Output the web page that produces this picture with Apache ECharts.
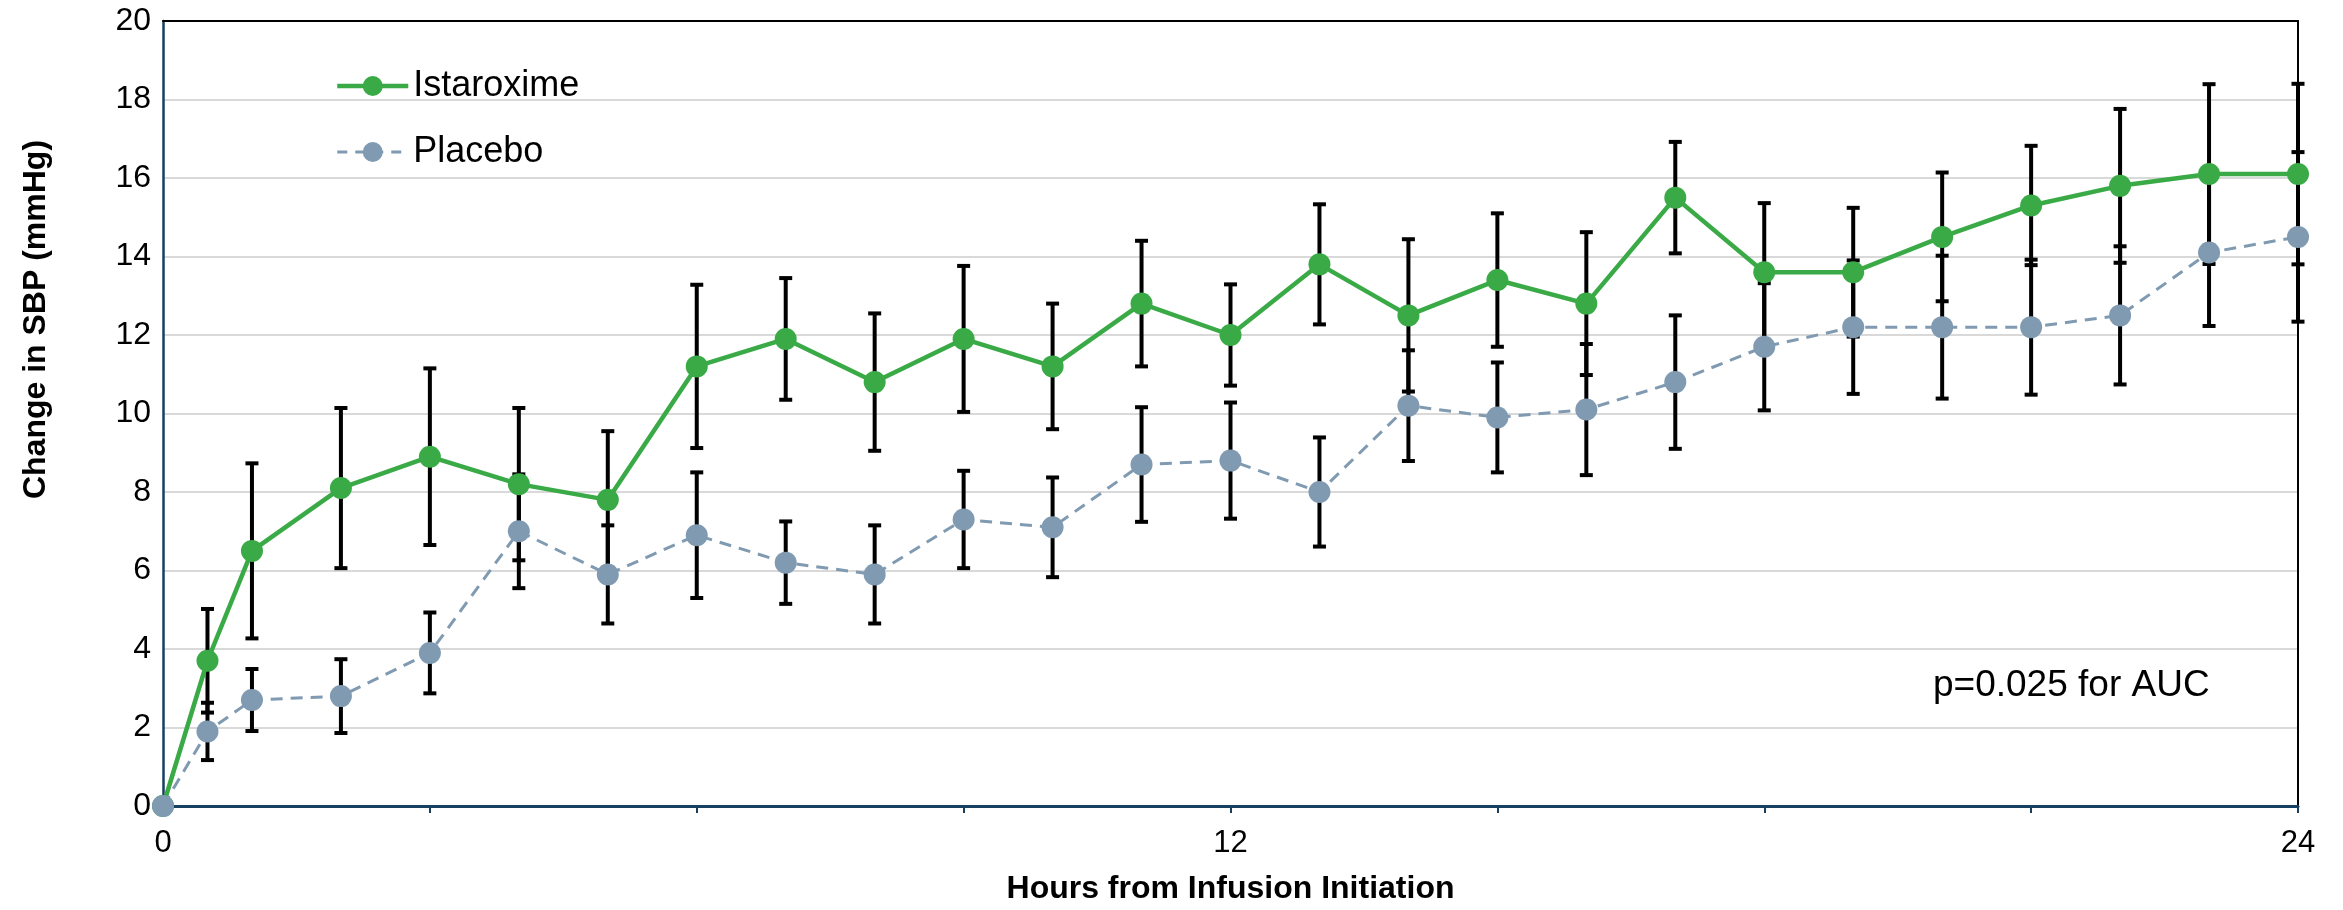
<!DOCTYPE html>
<html>
<head>
<meta charset="utf-8">
<script src="https://cdn.jsdelivr.net/npm/echarts@6.0.0/dist/echarts.min.js"></script>
<style>
html,body{margin:0;padding:0;background:#fff;}
#chart{width:2343px;height:910px;}
</style>
</head>
<body>
<div id="chart"></div>
<script>
// ---- data ----
const hours = [0, 0.5, 1, 2, 3, 4, 5, 6, 7, 8, 9, 10, 11, 12, 13, 14, 15, 16, 17, 18, 19, 20, 21, 22, 23, 24];
const istaroxime    = [0, 3.7, 6.5, 8.1, 8.9, 8.2, 7.8, 11.2, 11.9, 10.8, 11.9, 11.2, 12.8, 12.0, 13.8, 12.5, 13.4, 12.8, 15.5, 13.6, 13.6, 14.5, 15.3, 15.8, 16.1, 16.1];
const istaroximeErr = [0, 1.32, 2.23, 2.04, 2.25, 1.94, 1.75, 2.08, 1.55, 1.75, 1.86, 1.60, 1.60, 1.29, 1.53, 1.94, 1.70, 1.82, 1.42, 1.76, 1.64, 1.64, 1.52, 1.96, 2.29, 2.30];
const placebo       = [0, 1.9, 2.7, 2.8, 3.9, 7.0, 5.9, 6.9, 6.2, 5.9, 7.3, 7.1, 8.7, 8.8, 8.0, 10.2, 9.9, 10.1, 10.8, 11.7, 12.2, 12.2, 12.2, 12.5, 14.1, 14.5];
const placeboErr    = [0, 0.73, 0.79, 0.94, 1.03, 1.45, 1.25, 1.60, 1.05, 1.25, 1.24, 1.27, 1.46, 1.48, 1.39, 1.41, 1.40, 1.67, 1.70, 1.62, 1.70, 1.82, 1.72, 1.76, 1.87, 2.16];
const xLabelValues = [0, 12, 24];
const seriesNames = ['Istaroxime', 'Placebo'];
const annotation = 'p=0.025 for AUC';

// ---- styling ----
const FONT = 'Liberation Sans, Arial, sans-serif';
const GREEN = '#3aaa47';
const BLUEGRAY = '#7f9ab1';
const NAVY = '#173f5f';

const istPts = hours.map((h, i) => [h, istaroxime[i]]);
const plaPts = hours.map((h, i) => [h, placebo[i]]);
const istBars = hours.map((h, i) => [h, istaroxime[i] - istaroximeErr[i], istaroxime[i] + istaroximeErr[i]]);
const plaBars = hours.map((h, i) => [h, placebo[i] - placeboErr[i], placebo[i] + placeboErr[i]]);

function renderErr(params, api) {
  const x = api.value(0), lo = api.value(1), hi = api.value(2);
  if (!(hi > lo)) return null;
  const t = api.coord([x, hi]);
  const b = api.coord([x, lo]);
  const hw = 6.5;
  const st = {stroke: '#000', lineWidth: 4};
  return {
    type: 'group',
    children: [
      {type: 'line', shape: {x1: t[0], y1: t[1], x2: b[0], y2: b[1]}, style: st},
      {type: 'line', shape: {x1: t[0] - hw, y1: t[1], x2: t[0] + hw, y2: t[1]}, style: st},
      {type: 'line', shape: {x1: b[0] - hw, y1: b[1], x2: b[0] + hw, y2: b[1]}, style: st}
    ]
  };
}

const chart = echarts.init(document.getElementById('chart'));
chart.setOption({
  animation: false,
  backgroundColor: '#fff',
  textStyle: {fontFamily: FONT},
  grid: {left: 163, right: 45, top: 21, bottom: 98, show: false, containLabel: false},
  legend: {
    data: [
      {name: seriesNames[0], lineStyle: {width: 4.5, color: GREEN}},
      {name: seriesNames[1], lineStyle: {width: 3, color: BLUEGRAY, type: [10, 8]}}
    ],
    orient: 'vertical',
    left: 335, top: 66, padding: 0,
    itemWidth: 71, itemHeight: 25, itemGap: 26,
    textStyle: {fontSize: 36, lineHeight: 40, color: '#000', fontFamily: FONT}
  },
  xAxis: [{
    type: 'value', min: 0, max: 24, interval: 3,
    name: 'Hours from Infusion Initiation',
    nameLocation: 'middle', nameGap: 67,
    nameTextStyle: {fontSize: 32, fontWeight: 'bold', color: '#000', fontFamily: FONT},
    axisLine: {show: true, onZero: false, lineStyle: {color: NAVY, width: 3}},
    axisTick: {show: true, length: 7, lineStyle: {color: NAVY, width: 2}},
    axisLabel: {fontSize: 31, color: '#000', margin: 22, fontFamily: FONT,
      formatter: v => xLabelValues.indexOf(v) >= 0 ? String(v) : ''},
    splitLine: {show: false},
    z: 5
  }, {
    type: 'value', min: 0, max: 24, position: 'top',
    axisLine: {show: true, onZero: false, lineStyle: {color: '#000', width: 2}},
    axisTick: {show: false}, axisLabel: {show: false}, splitLine: {show: false},
    z: 5
  }],
  yAxis: [{
    type: 'value', min: 0, max: 20, interval: 2,
    name: 'Change in SBP (mmHg)',
    nameLocation: 'middle', nameGap: 111,
    nameTextStyle: {fontSize: 32, fontWeight: 'bold', color: '#000', fontFamily: FONT, padding: [0, 0, 0, 188]},
    axisLine: {show: true, onZero: false, lineStyle: {color: NAVY, width: 2.5}},
    axisTick: {show: false},
    axisLabel: {fontSize: 32, color: '#000', margin: 12, fontFamily: FONT},
    splitLine: {show: true, lineStyle: {color: '#d9d9d9', width: 2}},
    z: 5
  }, {
    type: 'value', min: 0, max: 20, position: 'right',
    axisLine: {show: true, onZero: false, lineStyle: {color: '#000', width: 2}},
    axisTick: {show: false}, axisLabel: {show: false}, splitLine: {show: false},
    z: 5
  }],
  graphic: [{
    type: 'text', x: 1933, y: 686, z: 100,
    style: {text: annotation, fontSize: 37, fontFamily: FONT, fill: '#000', align: 'left', verticalAlign: 'middle'}
  }],
  series: [
    {type: 'custom', name: 'istErr', data: istBars, renderItem: renderErr, encode: {x: 0, y: [1, 2]}, z: 6, silent: true},
    {type: 'custom', name: 'plaErr', data: plaBars, renderItem: renderErr, encode: {x: 0, y: [1, 2]}, z: 6, silent: true},
    {
      type: 'line', name: seriesNames[0], data: istPts, z: 7, clip: false,
      symbol: 'circle', symbolSize: 22,
      lineStyle: {color: GREEN, width: 4.5},
      itemStyle: {color: GREEN}
    },
    {
      type: 'line', name: seriesNames[1], data: plaPts, z: 8, clip: false,
      symbol: 'circle', symbolSize: 22,
      lineStyle: {color: BLUEGRAY, width: 3, type: [12, 8]},
      itemStyle: {color: BLUEGRAY}
    }
  ]
});
</script>
</body>
</html>
